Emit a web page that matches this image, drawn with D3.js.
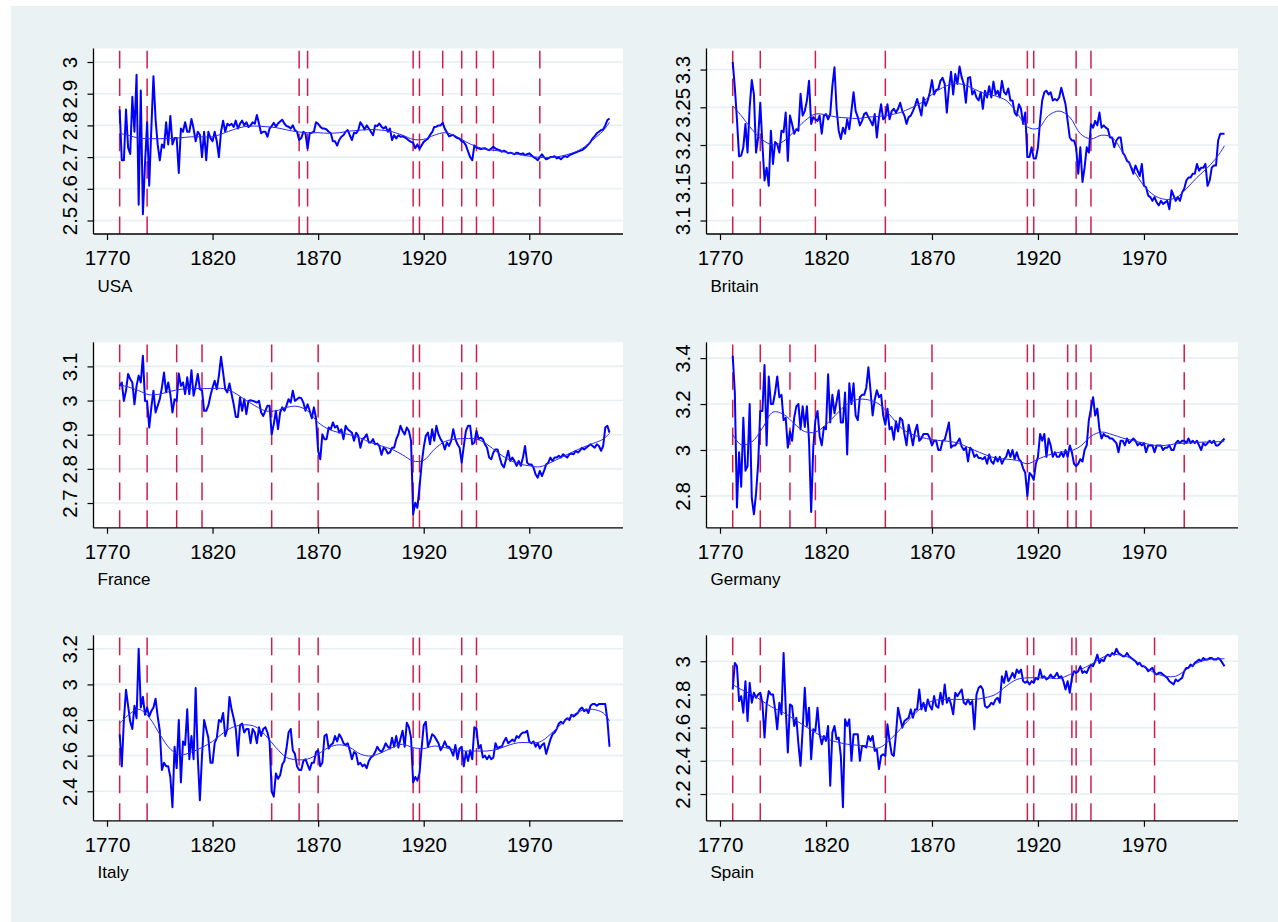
<!DOCTYPE html>
<html>
<head>
<meta charset="utf-8">
<script src="https://cdn.jsdelivr.net/npm/d3@7"></script>
<style>
  body { margin: 0; background: #fff; }
  svg { display: block; }
</style>
</head>
<body>
<svg id="chart"></svg>
<script>
// ---- data ----------------------------------------------------------
const firstYear = 1776;                       // every series runs 1776..2008
const xTicks = [1770, 1820, 1870, 1920, 1970];
const trendYears = [1776, 1780, 1785, 1790, 1795, 1800, 1805, 1810, 1815, 1820,
  1825, 1830, 1835, 1840, 1845, 1850, 1855, 1860, 1865, 1870, 1875, 1880, 1885,
  1890, 1895, 1900, 1905, 1910, 1915, 1920, 1925, 1930, 1935, 1940, 1945, 1950,
  1955, 1960, 1965, 1970, 1975, 1980, 1985, 1990, 1995, 2000, 2005, 2008];

const usaValues = [
  2.85, 2.69, 2.69, 2.85,
  2.73, 2.71, 2.89, 2.78, 2.96, 2.55, 2.91, 2.52, 2.68, 2.81,
  2.61, 2.79, 2.955, 2.82, 2.74, 2.69, 2.74, 2.73, 2.81, 2.74,
  2.83, 2.74, 2.76, 2.76, 2.65, 2.79, 2.78, 2.81, 2.78, 2.78,
  2.82, 2.79, 2.75, 2.78, 2.77, 2.70, 2.78, 2.69, 2.78, 2.76,
  2.75, 2.78, 2.75, 2.70, 2.78, 2.815, 2.78, 2.805, 2.80, 2.805,
  2.795, 2.815, 2.79, 2.805, 2.815, 2.80, 2.81, 2.795, 2.80, 2.81,
  2.805, 2.833, 2.805, 2.775, 2.78, 2.78, 2.764, 2.79, 2.798, 2.808,
  2.796, 2.806, 2.812, 2.818, 2.806, 2.798, 2.796, 2.79, 2.80, 2.785,
  2.78, 2.754, 2.76, 2.78, 2.775, 2.727, 2.775, 2.777, 2.78, 2.81,
  2.805, 2.796, 2.79, 2.79, 2.787, 2.78, 2.775, 2.75, 2.75, 2.736,
  2.754, 2.764, 2.769, 2.78, 2.785, 2.769, 2.754, 2.777, 2.775, 2.785,
  2.81, 2.80, 2.787, 2.80, 2.79, 2.78, 2.769, 2.80, 2.798, 2.806,
  2.796, 2.79, 2.796, 2.78, 2.79, 2.754, 2.769, 2.759, 2.769, 2.764,
  2.766, 2.762, 2.758, 2.752, 2.748, 2.745, 2.728, 2.74, 2.726, 2.737,
  2.748, 2.753, 2.758, 2.77, 2.779, 2.795, 2.796, 2.80, 2.80, 2.808,
  2.789, 2.778, 2.766, 2.768, 2.77, 2.764, 2.76, 2.758, 2.75, 2.747,
  2.737, 2.718, 2.70, 2.69, 2.737, 2.73, 2.728, 2.725, 2.727, 2.728,
  2.724, 2.722, 2.727, 2.733, 2.727, 2.724, 2.722, 2.717, 2.72, 2.717,
  2.712, 2.714, 2.712, 2.709, 2.714, 2.712, 2.709, 2.712, 2.706, 2.709,
  2.712, 2.706, 2.70, 2.696, 2.69, 2.70, 2.709, 2.70, 2.693, 2.696,
  2.70, 2.70, 2.703, 2.696, 2.699, 2.693, 2.70, 2.703, 2.70, 2.706,
  2.709, 2.712, 2.714, 2.717, 2.72, 2.722, 2.727, 2.733, 2.74, 2.748,
  2.759, 2.766, 2.775, 2.78, 2.785, 2.787, 2.80, 2.817, 2.822
];
const britainValues = [
  3.31, 3.276, 3.234, 3.185,
  3.186, 3.197, 3.228, 3.19, 3.25, 3.286, 3.267, 3.19, 3.21, 3.256,
  3.201, 3.153, 3.17, 3.146, 3.219, 3.175, 3.204, 3.201, 3.19, 3.219,
  3.217, 3.243, 3.179, 3.239, 3.228, 3.215, 3.221, 3.219, 3.268, 3.239,
  3.245, 3.259, 3.285, 3.228, 3.237, 3.234, 3.232, 3.239, 3.215, 3.239,
  3.241, 3.234, 3.241, 3.278, 3.303, 3.248, 3.219, 3.208, 3.223, 3.215,
  3.234, 3.221, 3.245, 3.27, 3.245, 3.237, 3.226, 3.232, 3.241, 3.243,
  3.237, 3.232, 3.226, 3.241, 3.21, 3.237, 3.254, 3.234, 3.237, 3.254,
  3.234, 3.245, 3.248, 3.243, 3.248, 3.256, 3.245, 3.239, 3.228, 3.237,
  3.239, 3.245, 3.252, 3.261, 3.25, 3.239, 3.263, 3.252, 3.259, 3.27,
  3.286, 3.267, 3.273, 3.274, 3.285, 3.289, 3.281, 3.243, 3.275, 3.297,
  3.267, 3.294, 3.281, 3.304, 3.29, 3.281, 3.256, 3.289, 3.29, 3.267,
  3.272, 3.263, 3.259, 3.27, 3.248, 3.272, 3.263, 3.278, 3.263, 3.284,
  3.267, 3.272, 3.263, 3.285, 3.27, 3.267, 3.275, 3.259, 3.259, 3.243,
  3.239, 3.254, 3.248, 3.228, 3.243, 3.184, 3.184, 3.197, 3.182, 3.182,
  3.197, 3.232, 3.259, 3.27, 3.272, 3.267, 3.27, 3.259, 3.261, 3.259,
  3.263, 3.276, 3.265, 3.254, 3.232, 3.21, 3.206, 3.206, 3.197, 3.162,
  3.197, 3.151, 3.17, 3.197, 3.19, 3.228, 3.223, 3.232, 3.226, 3.243,
  3.223, 3.226, 3.223, 3.221, 3.21, 3.21, 3.197, 3.206, 3.21, 3.21,
  3.19, 3.186, 3.179, 3.177, 3.17, 3.162, 3.173, 3.166, 3.159, 3.175,
  3.146, 3.144, 3.133, 3.131, 3.126, 3.131, 3.124, 3.12, 3.126, 3.122,
  3.124, 3.126, 3.115, 3.14, 3.133, 3.126, 3.131, 3.126, 3.137, 3.142,
  3.153, 3.157, 3.157, 3.162, 3.162, 3.175, 3.166, 3.17, 3.17, 3.175,
  3.146, 3.153, 3.17, 3.173, 3.173, 3.206, 3.215, 3.215, 3.215
];
const franceValues = [
  3.043, 3.053, 2.999, 3.029,
  3.078, 3.063, 3.053, 2.989, 3.043, 3.073, 3.053, 3.131, 2.999, 2.997,
  2.921, 2.98, 3.029, 2.965, 2.985, 3.004, 3.038, 3.082, 3.024, 3.053,
  3.019, 2.965, 3.004, 2.999, 3.079, 3.043, 3.053, 3.019, 3.068, 3.019,
  3.089, 3.014, 3.043, 3.078, 3.033, 3.029, 2.97, 2.97, 2.985, 3.014,
  3.038, 3.058, 3.033, 3.073, 3.128, 3.082, 3.033, 3.024, 3.05, 3.019,
  2.989, 2.952, 2.952, 3.009, 2.97, 3.004, 2.96, 2.999, 3.001, 2.999,
  2.997, 2.994, 2.999, 2.965, 2.955, 2.97, 2.985, 2.985, 2.901, 2.931,
  2.97, 2.916, 2.965, 2.98, 2.97, 2.985, 3.004, 2.994, 3.029, 2.999,
  3.004, 3.009, 3.007, 2.994, 2.97, 2.989, 2.97, 2.948, 2.98, 2.948,
  2.853, 2.828, 2.901, 2.887, 2.887, 2.921, 2.916, 2.936, 2.921, 2.926,
  2.906, 2.916, 2.887, 2.926, 2.916, 2.911, 2.906, 2.882, 2.906, 2.897,
  2.862, 2.887, 2.892, 2.901, 2.877, 2.877, 2.887, 2.872, 2.874, 2.867,
  2.841, 2.862, 2.857, 2.845, 2.848, 2.862, 2.862, 2.887, 2.901, 2.926,
  2.911, 2.901, 2.921, 2.911, 2.882, 2.667, 2.701, 2.686, 2.745, 2.813,
  2.862, 2.897, 2.906, 2.872, 2.916, 2.882, 2.926, 2.901, 2.887, 2.877,
  2.857, 2.877, 2.867, 2.882, 2.916, 2.887, 2.872, 2.862, 2.818, 2.867,
  2.911, 2.926, 2.926, 2.872, 2.877, 2.911, 2.887, 2.892, 2.887, 2.872,
  2.862, 2.833, 2.828, 2.848, 2.857, 2.857, 2.833, 2.813, 2.804, 2.828,
  2.853, 2.823, 2.833, 2.823, 2.809, 2.823, 2.809, 2.833, 2.867, 2.818,
  2.813, 2.813, 2.804, 2.784, 2.774, 2.794, 2.779, 2.794, 2.813, 2.818,
  2.833, 2.823, 2.833, 2.833, 2.838, 2.833, 2.843, 2.838, 2.833, 2.843,
  2.845, 2.843, 2.853, 2.848, 2.853, 2.862, 2.857, 2.862, 2.867, 2.872,
  2.867, 2.862, 2.872, 2.867, 2.853, 2.867, 2.921, 2.926, 2.906
];
const germanyValues = [
  3.41, 3.25, 2.75, 2.99,
  2.84, 3.14, 2.91, 2.93, 3.20, 2.79, 2.72, 2.81, 2.94, 3.17,
  3.17, 3.37, 3.02, 3.32, 3.20, 3.20, 3.25, 3.32, 3.23, 3.24,
  3.13, 3.14, 3.01, 3.08, 3.04, 3.14, 3.19, 3.20, 3.09, 3.19,
  3.10, 3.19, 3.04, 2.73, 3.01, 3.13, 3.17, 3.06, 3.02, 3.10,
  3.09, 3.33, 3.12, 3.24, 3.16, 3.21, 3.26, 3.12, 3.12, 3.25,
  2.98, 3.29, 3.20, 3.29, 3.15, 3.13, 3.23, 3.24, 3.24, 3.27,
  3.36, 3.26, 3.15, 3.22, 3.26, 3.23, 3.24, 3.15, 3.11, 3.18,
  3.09, 3.10, 3.045, 3.125, 3.08, 3.14, 3.13, 3.07, 3.02, 3.11,
  3.07, 3.02, 3.08, 3.11, 3.04, 3.05, 3.07, 3.07, 3.07, 3.05,
  3.02, 3.04, 3.04, 3.00, 3.00, 3.04, 3.045, 3.08, 3.12, 3.01,
  3.02, 3.02, 3.035, 3.05, 3.015, 3.00, 3.01, 2.95, 3.01, 3.00,
  2.97, 2.98, 2.965, 2.965, 2.96, 2.97, 2.94, 2.98, 2.95, 2.94,
  2.97, 2.95, 2.97, 2.94, 2.96, 2.97, 3.00, 2.97, 3.00, 2.96,
  2.99, 2.96, 2.95, 2.92, 2.90, 2.80, 2.90, 2.89, 2.87, 2.94,
  2.97, 3.07, 3.04, 3.07, 2.97, 3.05, 3.02, 2.97, 2.99, 2.97,
  2.97, 2.99, 2.97, 3.00, 2.97, 3.02, 2.99, 2.94, 2.93, 2.94,
  2.96, 2.95, 3.00, 3.02, 3.13, 3.18, 3.23, 3.15, 3.18, 3.09,
  3.05, 3.07, 3.06, 3.06, 3.05, 3.05, 3.04, 3.03, 2.99, 3.04,
  3.04, 3.02, 3.05, 3.03, 3.04, 3.05, 3.04, 3.02, 3.03, 3.02,
  3.03, 2.99, 3.02, 3.02, 3.02, 2.99, 3.02, 3.02, 3.02, 3.00,
  3.01, 3.01, 3.02, 3.00, 3.00, 3.03, 3.04, 3.03, 3.04, 3.04,
  3.03, 3.05, 3.03, 3.04, 3.03, 3.04, 3.02, 3.00, 3.03, 3.02,
  3.03, 3.04, 3.03, 3.04, 3.02, 3.02, 3.03, 3.04, 3.05
];
const italyValues = [
  2.72, 2.54, 2.80, 2.97,
  2.88, 2.79, 2.75, 2.88, 2.81, 3.20, 2.87, 2.93, 2.83, 2.87,
  2.82, 2.85, 2.87, 2.92, 2.82, 2.74, 2.52, 2.56, 2.54, 2.54,
  2.48, 2.31, 2.65, 2.53, 2.80, 2.45, 2.68, 2.66, 2.86, 2.58,
  2.71, 2.58, 2.98, 2.59, 2.35, 2.60, 2.80, 2.75, 2.70, 2.56,
  2.56, 2.67, 2.70, 2.80, 2.79, 2.84, 2.71, 2.75, 2.93, 2.86,
  2.81, 2.75, 2.60, 2.77, 2.78, 2.73, 2.75, 2.75, 2.67, 2.75,
  2.73, 2.67, 2.76, 2.71, 2.75, 2.76, 2.73, 2.68, 2.40, 2.37,
  2.50, 2.47, 2.49, 2.55, 2.57, 2.64, 2.73, 2.75, 2.63, 2.61,
  2.54, 2.52, 2.52, 2.57, 2.58, 2.55, 2.52, 2.56, 2.56, 2.62,
  2.63, 2.54, 2.56, 2.71, 2.72, 2.64, 2.66, 2.67, 2.71, 2.68,
  2.72, 2.70, 2.67, 2.66, 2.67, 2.63, 2.58, 2.62, 2.61, 2.55,
  2.56, 2.54, 2.55, 2.53, 2.57, 2.59, 2.60, 2.62, 2.65, 2.63,
  2.62, 2.64, 2.67, 2.65, 2.64, 2.70, 2.65, 2.71, 2.645, 2.695,
  2.74, 2.65, 2.785, 2.76, 2.70, 2.45, 2.48, 2.46, 2.50, 2.64,
  2.77, 2.79, 2.65, 2.68, 2.72, 2.71, 2.69, 2.67, 2.63, 2.65,
  2.68, 2.65, 2.65, 2.63, 2.60, 2.66, 2.58, 2.64, 2.65, 2.54,
  2.62, 2.57, 2.63, 2.58, 2.76, 2.75, 2.64, 2.66, 2.59, 2.60,
  2.58, 2.60, 2.58, 2.59, 2.67, 2.64, 2.65, 2.65, 2.68, 2.70,
  2.67, 2.68, 2.69, 2.68, 2.71, 2.70, 2.72, 2.73, 2.73, 2.74,
  2.68, 2.67, 2.68, 2.65, 2.67, 2.64, 2.66, 2.67, 2.61, 2.65,
  2.69, 2.72, 2.73, 2.75, 2.78, 2.79, 2.78, 2.80, 2.81, 2.80,
  2.83, 2.82, 2.83, 2.84, 2.86, 2.87, 2.85, 2.86, 2.84, 2.88,
  2.89, 2.89, 2.88, 2.89, 2.89, 2.89, 2.89, 2.80, 2.65
];
const spainValues = [
  2.83, 2.99, 2.97, 2.76,
  2.79, 2.69, 2.88, 2.64, 2.87, 2.75, 2.81, 2.78, 2.80, 2.81,
  2.75, 2.54, 2.74, 2.82, 2.80, 2.80, 2.71, 2.59, 2.75, 2.68,
  3.05, 2.72, 2.45, 2.74, 2.73, 2.61, 2.66, 2.50, 2.37, 2.59,
  2.84, 2.61, 2.72, 2.41, 2.59, 2.58, 2.72, 2.56, 2.50, 2.55,
  2.52, 2.61, 2.25, 2.57, 2.61, 2.53, 2.54, 2.43, 2.12, 2.65,
  2.61, 2.65, 2.40, 2.56, 2.56, 2.56, 2.40, 2.49, 2.49, 2.48,
  2.55, 2.52, 2.55, 2.46, 2.47, 2.35, 2.43, 2.44, 2.43, 2.62,
  2.52, 2.44, 2.43, 2.56, 2.72, 2.66, 2.60, 2.64, 2.65, 2.66,
  2.71, 2.66, 2.71, 2.71, 2.83, 2.71, 2.75, 2.70, 2.77, 2.73,
  2.71, 2.79, 2.73, 2.72, 2.81, 2.74, 2.86, 2.75, 2.78, 2.74,
  2.68, 2.81, 2.79, 2.81, 2.83, 2.75, 2.74, 2.77, 2.74, 2.76,
  2.59, 2.80, 2.84, 2.85, 2.83, 2.73, 2.72, 2.73, 2.75, 2.74,
  2.77, 2.78, 2.75, 2.91, 2.87, 2.94, 2.88, 2.90, 2.93, 2.90,
  2.95, 2.93, 2.95, 2.88, 2.87, 2.88, 2.86, 2.88, 2.87, 2.90,
  2.89, 2.95, 2.90, 2.91, 2.89, 2.90, 2.92, 2.90, 2.91, 2.93,
  2.90, 2.91, 2.88, 2.83, 2.88, 2.81, 2.90, 2.94, 2.93, 2.94,
  2.97, 2.93, 2.94, 2.93, 2.96, 2.98, 2.97, 3.00, 3.04, 2.99,
  3.01, 3.00, 3.03, 3.04, 3.03, 3.05, 3.04, 3.075, 3.05, 3.04,
  3.03, 3.03, 3.05, 3.03, 3.02, 3.01, 3.00, 2.98, 2.99, 2.97,
  2.97, 2.96, 2.94, 2.95, 2.96, 2.93, 2.92, 2.93, 2.93, 2.92,
  2.91, 2.90, 2.88, 2.87, 2.86, 2.89, 2.88, 2.89, 2.90, 2.94,
  2.96, 2.96, 2.98, 2.97, 2.99, 3.00, 3.01, 3.00, 3.02, 3.01,
  3.01, 3.02, 3.02, 3.01, 3.01, 3.02, 3.01, 2.99, 2.97
];

// smoothed trend, read at trendYears
const usaTrend = [2.775, 2.769, 2.76, 2.758, 2.758, 2.759, 2.761, 2.764, 2.764, 2.764,
  2.775, 2.787, 2.796, 2.798, 2.796, 2.793, 2.786, 2.78, 2.777, 2.777, 2.775, 2.777,
  2.782, 2.785, 2.787, 2.785, 2.78, 2.769, 2.756, 2.756, 2.769, 2.777, 2.767, 2.748,
  2.733, 2.724, 2.72, 2.714, 2.708, 2.703, 2.699, 2.699, 2.703, 2.712, 2.727, 2.754,
  2.783, 2.81];
const britainTrend = [3.252, 3.239, 3.221, 3.207, 3.20, 3.205, 3.218, 3.232, 3.241, 3.24,
  3.237, 3.236, 3.235, 3.237, 3.238, 3.24, 3.243, 3.249, 3.256, 3.267, 3.276, 3.281,
  3.28, 3.274, 3.268, 3.265, 3.259, 3.243, 3.224, 3.222, 3.239, 3.245, 3.237, 3.215,
  3.208, 3.213, 3.21, 3.19, 3.167, 3.146, 3.133, 3.128, 3.13, 3.142, 3.157, 3.17,
  3.186, 3.199];
const franceTrend = [3.046, 3.04, 3.029, 3.017, 3.019, 3.027, 3.033, 3.035, 3.035, 3.035,
  3.035, 3.024, 3.004, 2.985, 2.97, 2.97, 2.98, 2.983, 2.97, 2.936, 2.916, 2.906, 2.90,
  2.89, 2.877, 2.867, 2.857, 2.841, 2.823, 2.825, 2.857, 2.88, 2.887, 2.889, 2.887,
  2.872, 2.848, 2.828, 2.815, 2.809, 2.806, 2.818, 2.833, 2.848, 2.862, 2.874, 2.887,
  2.904];
const germanyTrend = [3.067, 3.023, 3.035, 3.095, 3.165, 3.155, 3.115, 3.08, 3.078, 3.11,
  3.157, 3.20, 3.22, 3.218, 3.20, 3.154, 3.10, 3.07, 3.055, 3.045, 3.04, 3.035, 3.02,
  2.999, 2.98, 2.965, 2.96, 2.955, 2.94, 2.96, 2.978, 2.99, 2.995, 3.016, 3.06, 3.078,
  3.067, 3.052, 3.04, 3.03, 3.02, 3.02, 3.027, 3.03, 3.033, 3.035, 3.036, 3.038];
const italyTrend = [2.78, 2.827, 2.86, 2.814, 2.72, 2.637, 2.605, 2.62, 2.646, 2.68,
  2.727, 2.762, 2.773, 2.764, 2.715, 2.646, 2.59, 2.577, 2.581, 2.609, 2.646, 2.661,
  2.646, 2.609, 2.598, 2.617, 2.645, 2.664, 2.645, 2.64, 2.654, 2.645, 2.632, 2.626,
  2.626, 2.626, 2.636, 2.658, 2.673, 2.673, 2.677, 2.72, 2.776, 2.822, 2.854, 2.86,
  2.84, 2.794];
const spainTrend = [2.86, 2.83, 2.80, 2.76, 2.72, 2.69, 2.65, 2.61, 2.57, 2.534,
  2.514, 2.50, 2.494, 2.486, 2.478, 2.525, 2.59, 2.66, 2.72, 2.76, 2.77, 2.77, 2.77,
  2.77, 2.78, 2.80, 2.85, 2.89, 2.90, 2.90, 2.90, 2.896, 2.92, 2.95, 2.98, 3.02,
  3.04, 3.035, 3.01, 2.97, 2.93, 2.91, 2.91, 2.95, 2.99, 3.01, 3.015, 3.015];

// years marked with dashed red lines
const usaEvents = [1776, 1789, 1861, 1865, 1915, 1918, 1929, 1938, 1945, 1953, 1975];
const britainEvents = [1776, 1789, 1815, 1848, 1915, 1918, 1938, 1945];
const franceEvents = [1776, 1789, 1803, 1815, 1848, 1870, 1915, 1918, 1938, 1945];
const germanyEvents = [1776, 1789, 1803, 1815, 1848, 1870, 1915, 1918, 1934, 1938, 1945, 1989];
const italyEvents = [1776, 1789, 1848, 1861, 1870, 1915, 1918, 1938, 1945];
const spainEvents = [1776, 1789, 1848, 1915, 1918, 1936, 1938, 1945, 1975];

// y tick labels
const usaTicks = [2.5, 2.6, 2.7, 2.8, 2.9, 3];
const britainTicks = [3.1, 3.15, 3.2, 3.25, 3.3];
const franceTicks = [2.7, 2.8, 2.9, 3, 3.1];
const germanyTicks = [2.8, 3, 3.2, 3.4];
const italyTicks = [2.4, 2.6, 2.8, 3, 3.2];
const spainTicks = [2.2, 2.4, 2.6, 2.8, 3];

const panels = [
  { name: "USA", values: usaValues, trend: usaTrend, events: usaEvents, ticks: usaTicks },
  { name: "Britain", values: britainValues, trend: britainTrend, events: britainEvents, ticks: britainTicks },
  { name: "France", values: franceValues, trend: franceTrend, events: franceEvents, ticks: franceTicks },
  { name: "Germany", values: germanyValues, trend: germanyTrend, events: germanyEvents, ticks: germanyTicks },
  { name: "Italy", values: italyValues, trend: italyTrend, events: italyEvents, ticks: italyTicks },
  { name: "Spain", values: spainValues, trend: spainTrend, events: spainEvents, ticks: spainTicks }
];

// ---- layout ---------------------------------------------------------
const W = 1278, H = 922;
const colX = [[93.5, 623], [706.5, 1238]];
const rowTop = [48.5, 342.3, 635.3];
const plotH = 185.5;
const pad = 13.5;            // plot region margin, like Stata's
const font = "'Liberation Sans', Arial, Helvetica, sans-serif";

const svg = d3.select("#chart").attr("width", W).attr("height", H);

svg.append("rect").attr("width", W).attr("height", H).attr("fill", "#fff");
svg.append("rect")
    .attr("x", 11).attr("y", 6)
    .attr("width", W - 11).attr("height", H - 6)
    .attr("fill", "#eaf2f3");

panels.forEach((p, i) => {
  const [x0, x1] = colX[i % 2];
  const y0 = rowTop[Math.floor(i / 2)];
  const y1 = y0 + plotH;

  const series = p.values.map((v, k) => ({ year: firstYear + k, value: v }));
  const trend = p.trend.map((v, k) => ({ year: trendYears[k], value: v }));

  const x = d3.scaleLinear()
      .domain([1770, firstYear + p.values.length - 1])
      .range([x0 + pad, x1 - pad]);

  const lo = Math.min(d3.min(p.values), d3.min(p.ticks));
  const hi = Math.max(d3.max(p.values), d3.max(p.ticks));
  const y = d3.scaleLinear().domain([lo, hi]).range([y1 - pad, y0 + pad]);

  const g = svg.append("g").attr("class", "panel");

  // white plot region
  g.append("rect")
      .attr("x", x0).attr("y", y0)
      .attr("width", x1 - x0).attr("height", y1 - y0)
      .attr("fill", "#fff");

  // gridlines
  g.selectAll(".grid")
    .data(p.ticks)
    .join("line")
      .attr("class", "grid")
      .attr("x1", x0).attr("x2", x1)
      .attr("y1", d => y(d)).attr("y2", d => y(d))
      .attr("stroke", "#e6eff1")
      .attr("stroke-width", 1.6);

  // event lines
  g.selectAll(".event")
    .data(p.events)
    .join("line")
      .attr("class", "event")
      .attr("x1", d => x(d)).attr("x2", d => x(d))
      .attr("y1", y1).attr("y2", y0)
      .attr("stroke", "#d01e4c")
      .attr("stroke-width", 1.5)
      .attr("stroke-dasharray", "17.6,10");

  // yearly series
  g.append("path")
      .datum(series)
      .attr("fill", "none")
      .attr("stroke", "#0000ff")
      .attr("stroke-width", 2)
      .attr("stroke-linejoin", "round")
      .attr("d", d3.line().x(d => x(d.year)).y(d => y(d.value)));

  // smoothed trend
  g.append("path")
      .datum(trend)
      .attr("fill", "none")
      .attr("stroke", "#2828ff")
      .attr("stroke-width", 1)
      .attr("d", d3.line().curve(d3.curveCatmullRom)
          .x(d => x(d.year)).y(d => y(d.value)));

  // y axis
  const yAxisG = g.append("g")
      .attr("transform", `translate(${x0},0)`)
      .call(d3.axisLeft(y).tickValues(p.ticks).tickSize(6).tickSizeOuter(0)
          .tickFormat(d => String(d)));
  yAxisG.select(".domain").remove();
  yAxisG.selectAll(".tick line").attr("stroke", "#000").attr("stroke-width", 1.2);
  yAxisG.selectAll(".tick text")
      .attr("x", null).attr("dy", null)
      .attr("transform", "translate(-16.5,0) rotate(-90)")
      .attr("text-anchor", "middle")
      .attr("fill", "#000")
      .style("font-family", font)
      .style("font-size", "20.5px");

  // x axis
  const xAxisG = g.append("g")
      .attr("transform", `translate(0,${y1})`)
      .call(d3.axisBottom(x).tickValues(xTicks).tickSize(6).tickSizeOuter(0)
          .tickFormat(d3.format("d")));
  xAxisG.select(".domain").remove();
  xAxisG.selectAll(".tick line").attr("stroke", "#000").attr("stroke-width", 1.2);
  xAxisG.selectAll(".tick text")
      .attr("y", 31).attr("dy", null)
      .attr("fill", "#000")
      .style("font-family", font)
      .style("font-size", "20.5px");

  // axis lines across the whole plot region
  g.append("line")
      .attr("x1", x0).attr("x2", x0).attr("y1", y0).attr("y2", y1)
      .attr("stroke", "#000").attr("stroke-width", 1.3);
  g.append("line")
      .attr("x1", x0).attr("x2", x1).attr("y1", y1).attr("y2", y1)
      .attr("stroke", "#000").attr("stroke-width", 1.3);

  // panel note
  g.append("text")
      .attr("x", x0 + 4).attr("y", y1 + 57.5)
      .text(p.name)
      .style("font-family", font)
      .style("font-size", "17px")
      .attr("fill", "#000");
});
</script>
</body>
</html>
